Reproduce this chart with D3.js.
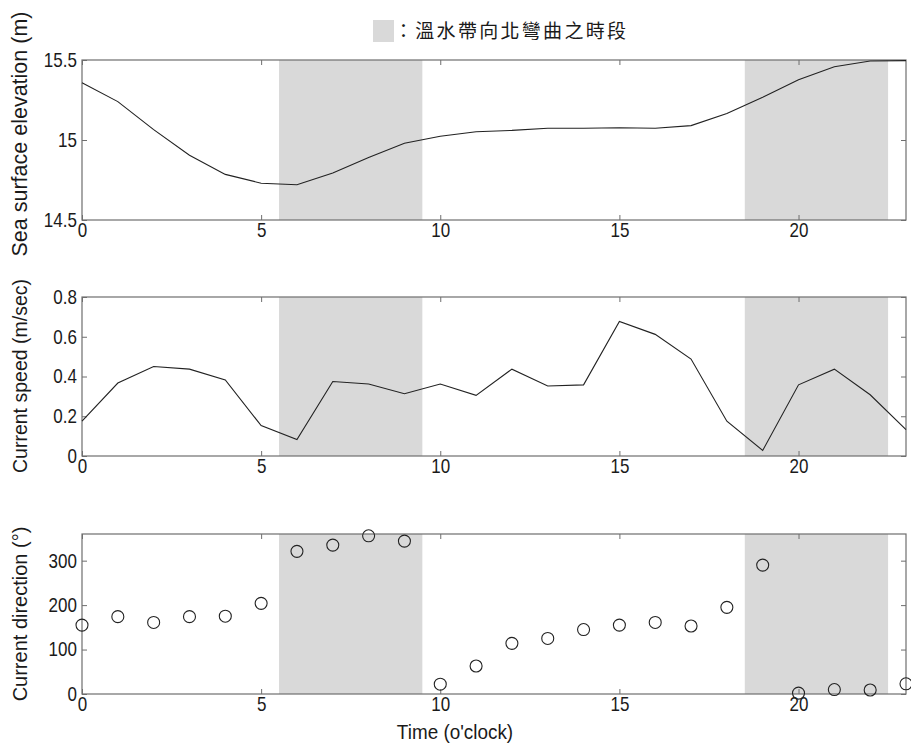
<!DOCTYPE html>
<html>
<head>
<meta charset="utf-8">
<script src="https://cdn.jsdelivr.net/npm/d3@7"></script>
<style>
  html, body { margin: 0; padding: 0; background: #fff; }
  svg { display: block; }
</style>
</head>
<body>
<svg id="chart" width="911" height="744"></svg>
<script>
// ---- Data ----
const hours = [0,1,2,3,4,5,6,7,8,9,10,11,12,13,14,15,16,17,18,19,20,21,22,23];
const elevation = [15.358,15.24,15.065,14.905,14.785,14.73,14.72,14.794,14.89,14.98,15.023,15.052,15.06,15.073,15.073,15.077,15.073,15.09,15.165,15.267,15.377,15.458,15.494,15.496];
const speed = [0.175,0.367,0.45,0.437,0.383,0.153,0.083,0.375,0.362,0.313,0.362,0.305,0.437,0.352,0.358,0.677,0.612,0.488,0.175,0.028,0.358,0.437,0.308,0.133];
const direction = [155,174,161,174,175,204,321,335,356,344,22,63,114,125,145,155,161,153,195,290,2,10,9,23];
const shadedPeriods = [[5.5,9.5],[18.5,22.5]];
const xTicks = [0,5,10,15,20];
const elevTicks = [14.5,15,15.5];
const speedTicks = [0,0.2,0.4,0.6,0.8];
const dirTicks = [0,100,200,300];
const legendText = "：溫水帶向北彎曲之時段";
const yTitles = ["Sea surface elevation (m)", "Current speed (m/sec)", "Current direction (°)"];
const xTitle = "Time (o'clock)";

// ---- Layout ----
const svg = d3.select("#chart");
const left = 82, right = 906;
const panels = [
  { top: 60, bottom: 220, domain: [14.5, 15.5], ticks: elevTicks, data: elevation, type: "line", title: yTitles[0], titleSize: 21.5, titleY: 134 },
  { top: 297, bottom: 456, domain: [0, 0.8], ticks: speedTicks, data: speed, type: "line", title: yTitles[1], titleSize: 19.5, titleY: 376 },
  { top: 534, bottom: 694, domain: [0, 360], ticks: dirTicks, data: direction, type: "circle", title: yTitles[2], titleSize: 20, titleY: 614 }
];
const axisColor = "#6e6e6e";
const textColor = "#1a1a1a";
const tickFont = "Liberation Sans, Arial, sans-serif";
const condense = 0.85;

const x = d3.scaleLinear().domain([0, 23]).range([left, right]);
const fmt = d3.format("~g");

// Legend
svg.append("rect").attr("x", 373).attr("y", 20).attr("width", 21).attr("height", 22).attr("fill", "#d9d9d9");
svg.append("text").attr("x", 394).attr("y", 38)
  .attr("font-family", "Noto Sans CJK TC, Noto Sans CJK SC, sans-serif")
  .attr("font-size", 19).attr("letter-spacing", 2.3).attr("fill", textColor)
  .text(legendText);

panels.forEach(p => {
  const y = d3.scaleLinear().domain(p.domain).range([p.bottom, p.top]);
  const g = svg.append("g");

  // shaded periods
  g.selectAll("rect.shade").data(shadedPeriods).join("rect")
    .attr("class", "shade")
    .attr("x", d => x(d[0])).attr("width", d => x(d[1]) - x(d[0]))
    .attr("y", p.top).attr("height", p.bottom - p.top)
    .attr("fill", "#d9d9d9");

  // axes
  const styleAxis = sel => {
    sel.select(".domain").remove();
    sel.selectAll(".tick line").attr("stroke", axisColor);
    sel.selectAll(".tick text").attr("fill", textColor)
      .attr("font-family", tickFont).attr("font-size", 20);
  };
  const bottomAxis = g.append("g").attr("transform", `translate(0,${p.bottom})`)
    .call(d3.axisBottom(x).tickValues(xTicks).tickFormat(fmt).tickSizeInner(-5).tickSizeOuter(0).tickPadding(3))
    .call(styleAxis);
  bottomAxis.selectAll(".tick text").attr("transform", `scale(${condense},1)`);
  g.append("g").attr("transform", `translate(0,${p.top})`)
    .call(d3.axisTop(x).tickValues(xTicks).tickFormat("").tickSizeInner(-5).tickSizeOuter(0))
    .call(styleAxis);
  const leftAxis = g.append("g").attr("transform", `translate(${left},0)`)
    .call(d3.axisLeft(y).tickValues(p.ticks).tickFormat(fmt).tickSizeInner(-5).tickSizeOuter(0).tickPadding(6))
    .call(styleAxis);
  leftAxis.selectAll(".tick text").attr("transform", `scale(${condense},1)`);
  g.append("g").attr("transform", `translate(${right},0)`)
    .call(d3.axisRight(y).tickValues(p.ticks).tickFormat("").tickSizeInner(-5).tickSizeOuter(0))
    .call(styleAxis);

  // box
  g.append("rect").attr("x", left).attr("y", p.top)
    .attr("width", right - left).attr("height", p.bottom - p.top)
    .attr("fill", "none").attr("stroke", axisColor).attr("stroke-width", 1.2);

  // data
  if (p.type === "line") {
    const line = d3.line().x((d, i) => x(hours[i])).y(d => y(d));
    g.append("path").datum(p.data).attr("d", line)
      .attr("fill", "none").attr("stroke", "#222").attr("stroke-width", 1.1);
  } else {
    g.selectAll("circle").data(p.data).join("circle")
      .attr("cx", (d, i) => x(hours[i])).attr("cy", d => y(d)).attr("r", 6)
      .attr("fill", "none").attr("stroke", "#222").attr("stroke-width", 1.1);
  }

  // y title
  g.append("text")
    .attr("transform", `translate(27,${p.titleY}) rotate(-90)`)
    .attr("text-anchor", "middle")
    .attr("font-family", "Liberation Sans, Arial, sans-serif")
    .attr("font-size", p.titleSize).attr("fill", textColor)
    .text(p.title);
});

// x title
svg.append("text")
  .attr("transform", `translate(455,739) scale(0.9,1)`)
  .attr("text-anchor", "middle")
  .attr("font-family", "Liberation Sans, Arial, sans-serif")
  .attr("font-size", 21).attr("fill", textColor)
  .text(xTitle);
</script>
</body>
</html>
